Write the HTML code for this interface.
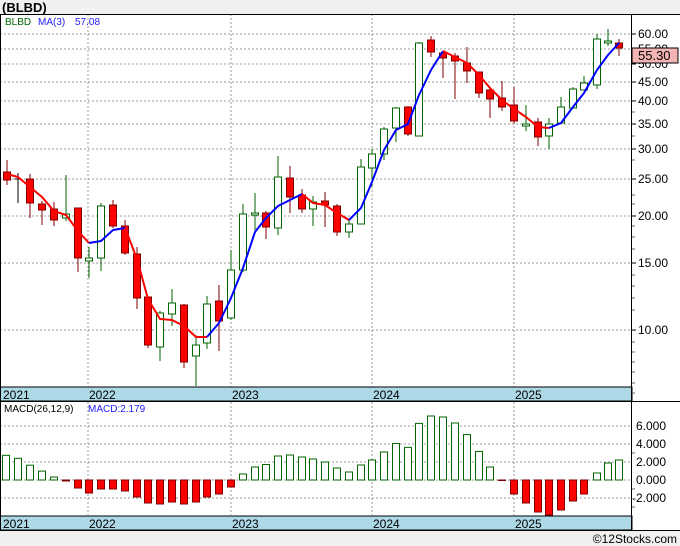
<!DOCTYPE html>
<html><head><meta charset="utf-8"><style>
body{margin:0;background:#f0f0f0;}
svg{display:block;font-family:"Liberation Sans",sans-serif;}
</style></head><body>
<svg width="680" height="546" xmlns="http://www.w3.org/2000/svg">
<rect x="0" y="0" width="680" height="546" fill="#f0f0f0"/>
<rect x="0" y="14" width="680" height="517" fill="#fff"/>
<text x="2" y="12" font-size="13" font-weight="bold" fill="#000">(BLBD)</text>
<!-- grid -->
<g stroke="#999" stroke-width="1" stroke-dasharray="2,2">
<line x1="0" x2="632" y1="34" y2="34"/><line x1="0" x2="632" y1="49" y2="49"/><line x1="0" x2="632" y1="64" y2="64"/><line x1="0" x2="632" y1="82" y2="82"/><line x1="0" x2="632" y1="101" y2="101"/><line x1="0" x2="632" y1="124" y2="124"/><line x1="0" x2="632" y1="149" y2="149"/><line x1="0" x2="632" y1="179" y2="179"/><line x1="0" x2="632" y1="216" y2="216"/><line x1="0" x2="632" y1="263" y2="263"/><line x1="0" x2="632" y1="330" y2="330"/>
<line x1="0" x2="632" y1="426" y2="426"/><line x1="0" x2="632" y1="444" y2="444"/><line x1="0" x2="632" y1="462" y2="462"/><line x1="0" x2="632" y1="480" y2="480"/><line x1="0" x2="632" y1="498" y2="498"/>
<line x1="88" x2="88" y1="14" y2="515"/><line x1="231" x2="231" y1="14" y2="515"/><line x1="372" x2="372" y1="14" y2="515"/><line x1="514" x2="514" y1="14" y2="515"/>
</g>
<!-- strips -->
<rect x="0" y="387" width="632" height="14" fill="#add8e6" stroke="#000" stroke-width="1"/>
<rect x="0" y="516" width="632" height="14" fill="#add8e6" stroke="#000" stroke-width="1"/>
<g font-size="12" fill="#000">
<text x="3" y="399">2021</text><text x="89" y="399">2022</text><text x="232" y="399">2023</text><text x="373" y="399">2024</text><text x="515" y="399">2025</text>
<text x="3" y="528">2021</text><text x="89" y="528">2022</text><text x="232" y="528">2023</text><text x="373" y="528">2024</text><text x="515" y="528">2025</text>
</g>
<!-- frame -->
<line x1="0" x2="680" y1="14.5" y2="14.5" stroke="#000"/>
<line x1="0" x2="680" y1="401.5" y2="401.5" stroke="#000"/>
<line x1="0" x2="680" y1="530.5" y2="530.5" stroke="#000"/>
<line x1="631.5" x2="631.5" y1="14" y2="531" stroke="#000"/>
<line x1="0.5" x2="0.5" y1="14" y2="531" stroke="#000"/>
<!-- axis labels -->
<g font-size="12" fill="#000">
<text x="638" y="38">60.00</text><text x="638" y="53">55.00</text><text x="638" y="68">50.00</text><text x="638" y="86">45.00</text><text x="638" y="105">40.00</text><text x="638" y="128">35.00</text><text x="638" y="153">30.00</text><text x="638" y="183">25.00</text><text x="638" y="220">20.00</text><text x="638" y="267">15.00</text><text x="638" y="334">10.00</text>
<text x="636" y="430">6.000</text><text x="636" y="448">4.000</text><text x="636" y="466">2.000</text><text x="636" y="484">0.000</text><text x="632" y="502">-2.000</text>
</g>
<g stroke="#000">
<line x1="632" x2="636" y1="34" y2="34"/><line x1="632" x2="636" y1="64" y2="64"/><line x1="632" x2="636" y1="82" y2="82"/><line x1="632" x2="636" y1="101" y2="101"/><line x1="632" x2="636" y1="124" y2="124"/><line x1="632" x2="636" y1="149" y2="149"/><line x1="632" x2="636" y1="179" y2="179"/><line x1="632" x2="636" y1="216" y2="216"/><line x1="632" x2="636" y1="263" y2="263"/><line x1="632" x2="636" y1="330" y2="330"/>
</g>
<g stroke="#666">
<line x1="632" x2="635" y1="112" y2="112"/><line x1="632" x2="635" y1="136" y2="136"/><line x1="632" x2="635" y1="160" y2="160"/><line x1="632" x2="635" y1="195" y2="195"/><line x1="632" x2="635" y1="204" y2="204"/><line x1="632" x2="635" y1="226" y2="226"/><line x1="632" x2="635" y1="237" y2="237"/><line x1="632" x2="635" y1="249" y2="249"/><line x1="632" x2="635" y1="275" y2="275"/><line x1="632" x2="635" y1="286" y2="286"/><line x1="632" x2="635" y1="298" y2="298"/><line x1="632" x2="635" y1="310" y2="310"/><line x1="632" x2="635" y1="342" y2="342"/><line x1="632" x2="635" y1="352" y2="352"/><line x1="632" x2="635" y1="362" y2="362"/><line x1="632" x2="635" y1="372" y2="372"/><line x1="632" x2="635" y1="383" y2="383"/><line x1="632" x2="635" y1="393" y2="393"/>
<line x1="632" x2="635" y1="453" y2="453"/><line x1="632" x2="635" y1="489" y2="489"/><line x1="632" x2="635" y1="507" y2="507"/>
</g>
<rect x="632" y="48" width="46" height="15" fill="#f4b4b4" stroke="#000"/>
<text x="638" y="60" font-size="13" fill="#000">55.30</text>
<!-- legends -->
<text x="5" y="25" font-size="10" fill="#006400">BLBD</text>
<text x="38" y="25" font-size="10" fill="#2020ff">MA(3)</text>
<text x="75" y="25" font-size="10" fill="#2020ff">57.08</text>
<text x="4" y="412" font-size="10" fill="#000">MACD(26,12,9)</text>
<text x="88" y="412" font-size="10" fill="#2020ff">MACD:2.179</text>
<!-- candles -->
<g stroke-width="1">
<g stroke="#800000" fill="#ff0000">
<line x1="7" x2="7" y1="160" y2="185"/><rect x="3.5" y="172" width="7" height="8"/>
<line x1="30" x2="30" y1="174" y2="218"/><rect x="26.5" y="179" width="7" height="24"/>
<line x1="42" x2="42" y1="201" y2="225"/><rect x="38.5" y="204" width="7" height="6"/>
<line x1="54" x2="54" y1="202" y2="226"/><rect x="50.5" y="209" width="7" height="11"/>
<line x1="78" x2="78" y1="208" y2="272"/><rect x="74.5" y="208" width="7" height="50"/>
<line x1="113" x2="113" y1="200" y2="228"/><rect x="109.5" y="205" width="7" height="21"/>
<line x1="125" x2="125" y1="220" y2="255"/><rect x="121.5" y="226" width="7" height="27"/>
<line x1="137" x2="137" y1="247" y2="309"/><rect x="133.5" y="254" width="7" height="44"/>
<line x1="148" x2="148" y1="297" y2="348"/><rect x="144.5" y="297" width="7" height="48"/>
<line x1="184" x2="184" y1="304" y2="368"/><rect x="180.5" y="305" width="7" height="57"/>
<line x1="219" x2="219" y1="285" y2="351"/><rect x="215.5" y="301" width="7" height="20"/>
<line x1="266" x2="266" y1="211" y2="239"/><rect x="262.5" y="213" width="7" height="14"/>
<line x1="290" x2="290" y1="166" y2="213"/><rect x="286.5" y="178" width="7" height="19"/>
<line x1="302" x2="302" y1="189" y2="213"/><rect x="298.5" y="195" width="7" height="14"/>
<line x1="325" x2="325" y1="192" y2="227"/><rect x="321.5" y="201" width="7" height="4"/>
<line x1="337" x2="337" y1="204" y2="236"/><rect x="333.5" y="206" width="7" height="26"/>
<line x1="408" x2="408" y1="106" y2="136"/><rect x="404.5" y="107" width="7" height="27"/>
<line x1="431" x2="431" y1="36" y2="57"/><rect x="427.5" y="40" width="7" height="12"/>
<line x1="443" x2="443" y1="53" y2="78"/><rect x="439.5" y="53" width="7" height="5"/>
<line x1="455" x2="455" y1="53" y2="99"/><rect x="451.5" y="56" width="7" height="5"/>
<line x1="467" x2="467" y1="47" y2="83"/><rect x="463.5" y="63" width="7" height="8"/>
<line x1="479" x2="479" y1="72" y2="98"/><rect x="475.5" y="72" width="7" height="21"/>
<line x1="490" x2="490" y1="88" y2="118"/><rect x="486.5" y="90" width="7" height="9"/>
<line x1="502" x2="502" y1="81" y2="111"/><rect x="498.5" y="98" width="7" height="9"/>
<line x1="514" x2="514" y1="87" y2="124"/><rect x="510.5" y="105" width="7" height="16"/>
<line x1="538" x2="538" y1="118" y2="146"/><rect x="534.5" y="122" width="7" height="15"/>
<line x1="619" x2="619" y1="39" y2="56"/><rect x="615.5" y="43" width="7" height="5"/>
</g>
<g stroke="#006400" fill="#fff">
<line x1="66" x2="66" y1="175" y2="221"/><rect x="62.5" y="214" width="7" height="4"/>
<line x1="89" x2="89" y1="247" y2="278"/><rect x="85.5" y="258" width="7" height="3"/>
<line x1="101" x2="101" y1="203" y2="271"/><rect x="97.5" y="206" width="7" height="52"/>
<line x1="160" x2="160" y1="311" y2="361"/><rect x="156.5" y="313" width="7" height="34"/>
<line x1="172" x2="172" y1="289" y2="326"/><rect x="168.5" y="303" width="7" height="11"/>
<line x1="196" x2="196" y1="335" y2="386"/><rect x="192.5" y="345" width="7" height="11"/>
<line x1="207" x2="207" y1="296" y2="349"/><rect x="203.5" y="304" width="7" height="39"/>
<line x1="231" x2="231" y1="250" y2="320"/><rect x="227.5" y="270" width="7" height="48"/>
<line x1="243" x2="243" y1="204" y2="272"/><rect x="239.5" y="214" width="7" height="56"/>
<line x1="255" x2="255" y1="193" y2="230"/><rect x="251.5" y="213" width="7" height="2"/>
<line x1="278" x2="278" y1="156" y2="235"/><rect x="274.5" y="177" width="7" height="51"/>
<line x1="313" x2="313" y1="196" y2="226"/><rect x="309.5" y="202" width="7" height="7"/>
<line x1="349" x2="349" y1="220" y2="238"/><rect x="345.5" y="224" width="7" height="8"/>
<line x1="361" x2="361" y1="159" y2="224"/><rect x="357.5" y="167" width="7" height="57"/>
<line x1="372" x2="372" y1="149" y2="186"/><rect x="368.5" y="154" width="7" height="14"/>
<line x1="384" x2="384" y1="127" y2="160"/><rect x="380.5" y="129" width="7" height="25"/>
<line x1="396" x2="396" y1="107" y2="142"/><rect x="392.5" y="108" width="7" height="20"/>
<line x1="419" x2="419" y1="42" y2="136"/><rect x="415.5" y="43" width="7" height="93"/>
<line x1="526" x2="526" y1="105" y2="131"/><rect x="522.5" y="124" width="7" height="2"/>
<line x1="549" x2="549" y1="118" y2="149"/><rect x="545.5" y="124" width="7" height="12"/>
<line x1="561" x2="561" y1="97" y2="123"/><rect x="557.5" y="107" width="7" height="16"/>
<line x1="573" x2="573" y1="87" y2="108"/><rect x="569.5" y="89" width="7" height="19"/>
<line x1="584" x2="584" y1="76" y2="90"/><rect x="580.5" y="83" width="7" height="7"/>
<line x1="597" x2="597" y1="34" y2="89"/><rect x="593.5" y="39" width="7" height="46"/>
<line x1="608" x2="608" y1="29" y2="46"/><rect x="604.5" y="41" width="7" height="2"/>
</g>
<g stroke="#000"><line x1="18" x2="18" y1="173" y2="203"/><line x1="14.5" x2="21.5" y1="179" y2="179"/></g>
</g>
<!-- MA -->
<g fill="none" stroke-width="2" stroke-linejoin="round">
<polyline stroke="#ff0000" points="7,174 18,177 30,187 42,197 54,211 66,215 78,231 89,243"/>
<polyline stroke="#0000ff" points="89,243 101,241 113,230 125,228"/>
<polyline stroke="#ff0000" points="125,228 137,259 148,299 160,319 172,320 184,326 196,337 207,337"/>
<polyline stroke="#0000ff" points="207,337 219,323 231,298 243,268 255,232 266,218 278,206 290,200 302,194"/>
<polyline stroke="#ff0000" points="302,194 313,203 325,205 337,213 349,220"/>
<polyline stroke="#0000ff" points="349,220 361,208 372,182 384,150 396,130 408,124 419,95 431,70 443,51"/>
<polyline stroke="#ff0000" points="443,51 455,57 467,63 479,75 490,88 502,100 514,109 526,117 538,127 549,128"/>
<polyline stroke="#0000ff" points="549,128 561,123 573,107 584,93 597,70 608,55 619,43"/>
</g>
<!-- MACD bars -->
<g stroke="#006400" fill="#fff">
<rect x="2.5" y="455.3" width="7" height="24.7"/><rect x="14.5" y="458.3" width="7" height="21.7"/><rect x="26.5" y="465.2" width="7" height="14.8"/><rect x="38.5" y="471.1" width="7" height="8.9"/><rect x="50.5" y="477" width="7" height="3"/>
<rect x="239.5" y="474" width="7" height="6"/><rect x="251.5" y="467" width="7" height="13"/><rect x="262.5" y="464.5" width="7" height="15.5"/><rect x="274.5" y="456" width="7" height="24"/><rect x="286.5" y="455" width="7" height="25"/><rect x="298.5" y="457" width="7" height="23"/><rect x="309.5" y="459" width="7" height="21"/><rect x="321.5" y="462" width="7" height="18"/><rect x="333.5" y="468" width="7" height="12"/><rect x="345.5" y="472" width="7" height="8"/><rect x="357.5" y="465" width="7" height="15"/><rect x="368.5" y="460" width="7" height="20"/><rect x="380.5" y="452" width="7" height="28"/><rect x="392.5" y="443.5" width="7" height="36.5"/><rect x="404.5" y="447.4" width="7" height="32.6"/><rect x="415.5" y="423.4" width="7" height="56.6"/><rect x="427.5" y="416" width="7" height="64"/><rect x="439.5" y="417" width="7" height="63"/><rect x="451.5" y="423" width="7" height="57"/><rect x="463.5" y="434.6" width="7" height="45.4"/><rect x="475.5" y="451.4" width="7" height="28.6"/><rect x="486.5" y="467" width="7" height="13"/>
<rect x="593.5" y="473" width="7" height="7"/><rect x="604.5" y="463" width="7" height="17"/><rect x="615.5" y="460" width="7" height="20"/>
</g>
<g stroke="#800000" fill="#ff0000">
<rect x="62.5" y="480" width="7" height="1"/><rect x="74.5" y="480" width="7" height="8"/><rect x="85.5" y="480" width="7" height="13"/><rect x="97.5" y="480" width="7" height="9"/><rect x="109.5" y="480" width="7" height="9"/><rect x="121.5" y="480" width="7" height="11"/><rect x="133.5" y="480" width="7" height="17"/><rect x="144.5" y="480" width="7" height="23"/><rect x="156.5" y="480" width="7" height="24"/><rect x="168.5" y="480" width="7" height="22"/><rect x="180.5" y="480" width="7" height="24"/><rect x="192.5" y="480" width="7" height="22"/><rect x="203.5" y="480" width="7" height="17"/><rect x="215.5" y="480" width="7" height="14"/><rect x="227.5" y="480" width="7" height="7"/>
<rect x="498.5" y="480" width="7" height="0.5"/>
<rect x="510.5" y="480" width="7" height="14"/><rect x="522.5" y="480" width="7" height="23"/><rect x="534.5" y="480" width="7" height="32"/><rect x="545.5" y="480" width="7" height="35"/><rect x="557.5" y="480" width="7" height="30"/><rect x="569.5" y="480" width="7" height="21"/><rect x="580.5" y="480" width="7" height="14"/>
</g>
<rect x="632" y="48" width="46" height="15" fill="#f4b4b4" stroke="#000"/>
<text x="638" y="60" font-size="13" fill="#000">55.30</text>
<text x="677" y="543" font-size="12" fill="#000" text-anchor="end">©12Stocks.com</text>
</svg>
</body></html>
